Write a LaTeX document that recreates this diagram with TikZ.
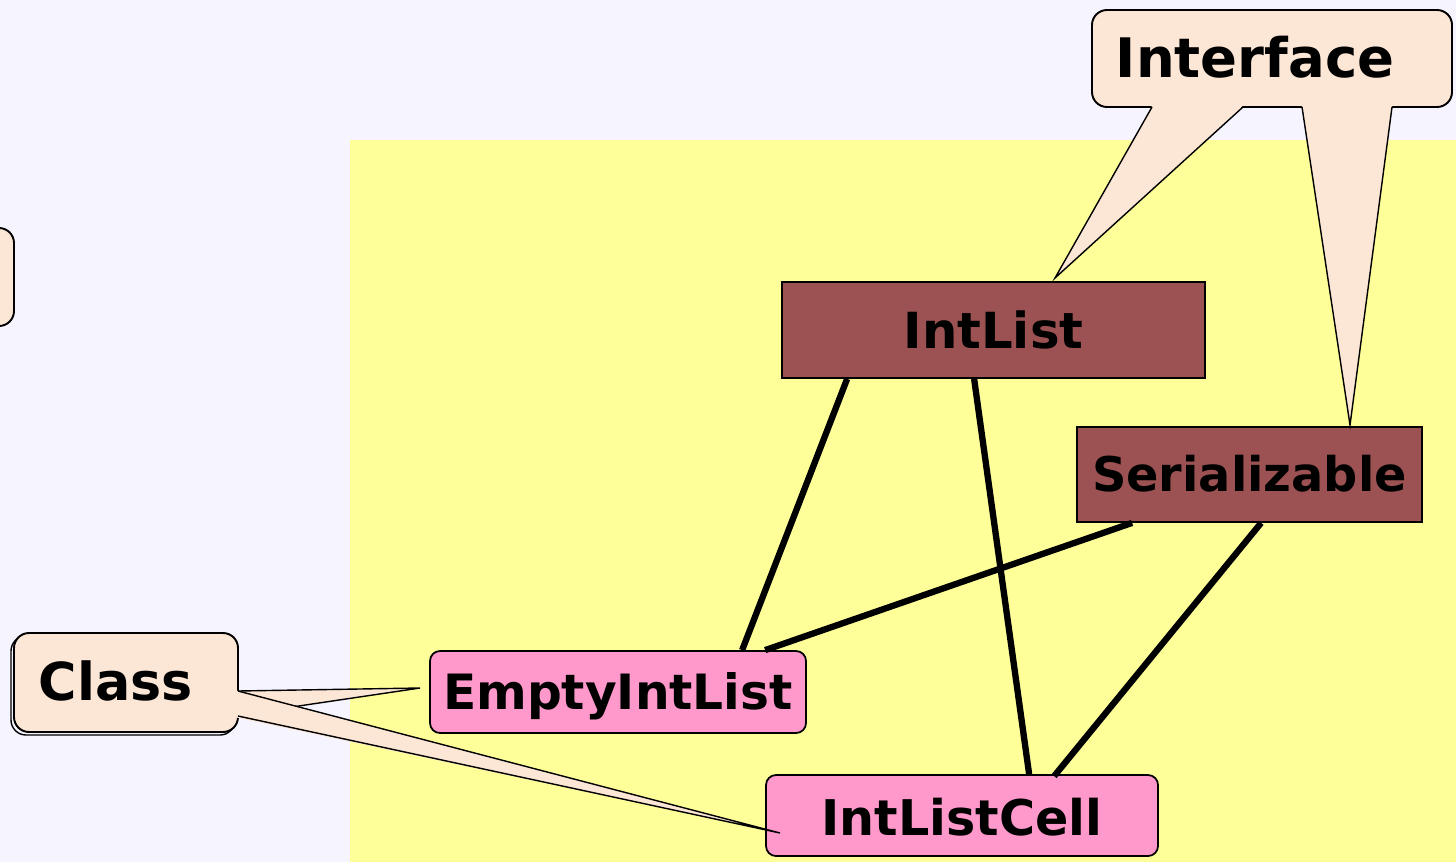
\documentclass[tikz,border=0pt]{standalone}
\usepackage{fontspec}
\setmainfont{DejaVu Sans}
\usetikzlibrary{calc}
\definecolor{pagebg}{HTML}{F6F4FF}
\definecolor{panel}{HTML}{FFFF99}
\definecolor{notefill}{HTML}{FCE6D6}
\definecolor{ifacefill}{HTML}{9C5252}
\definecolor{classfill}{HTML}{FF99CC}
\tikzset{
  boxtext/.style={font=\fontsize{#1}{#1}\selectfont\bfseries, text height={0.729*#1 pt}, text depth=0pt, inner sep=0pt},
  boxtext/.default=28,
  ifacebox/.style={boxtext=#1, rectangle, draw=black, line width=1pt, fill=ifacefill},
  ifacebox/.default=28,
  classbox/.style={boxtext=#1, rectangle, rounded corners=0.2cm, draw=black, line width=1pt, fill=classfill},
  classbox/.default=28,
  link/.style={line width=3.6pt, black},
  notebox/.style={fill=notefill, draw=black, line width=1.1pt, rounded corners=0.3cm},
  tailedge/.style={draw=black, line width=0.8pt, line join=miter},
}
\begin{document}
\begin{tikzpicture}[x=0.02cm, y=-0.02cm]
  \useasboundingbox (0,0) rectangle (1456,862);
  \clip (0,0) rectangle (1456,862);
  % background and highlighted panel
  \fill[pagebg] (0,0) rectangle (1456,862);
  \fill[panel] (350,140) rectangle (1456,862);
  % partly visible note at the left edge
  \path[notebox] (-80,228) rectangle (14,326);

  % boxes
  \node[ifacebox=28.3, minimum width={423*0.02cm}, minimum height={96*0.02cm}] (intlist) at (993.5,330) {IntList};
  \node[ifacebox=27.2, minimum width={345*0.02cm}, minimum height={95*0.02cm}] (serial) at (1249.5,474.5) {Serializable};
  \node[classbox=27.7, minimum width={376*0.02cm}, minimum height={82*0.02cm}] (empty) at (618,692) {EmptyIntList};
  \node[classbox=28, minimum width={392*0.02cm}, minimum height={81*0.02cm}] (cell) at (962,815.5) {};
  \node[boxtext=28] (celltext) at (962,818) {IntListCell};

  % connectors
  \draw[link] ($(intlist.south west)+(66,0)$) -- ($(empty.north west)+(313,0)$);
  \draw[link] ($(intlist.south west)+(193,0)$) -- ($(cell.north west)+(264,0)$);
  \draw[link] ($(serial.south west)+(56,0)$) -- ($(empty.north west)+(336,0)$);
  \draw[link] ($(serial.south west)+(185,0)$) -- ($(cell.north west)+(289,2)$);

  % "Interface" note with two pointers
  \path[notebox] (1092,10) rectangle (1452,107);
  \fill[notefill] (1153.7,103) -- (1055,278) -- (1246,103) -- cycle;
  \draw[tailedge] (1152,107) -- (1055,278) -- (1243,107);
  \fill[notefill] (1301.4,103) -- (1350,425) -- (1392.5,103) -- cycle;
  \draw[tailedge] (1302,107) -- (1350,425) -- (1392,107);
  \node[boxtext=31] (ifacenote) at (1255,58) {Interface};

  % "Class" note with two pointers
  \draw[black, line width=0.8pt, rounded corners=0.3cm] (11,636) rectangle (235,735);
  \path[notebox] (14,633) rectangle (238,732);
  \fill[notefill] (234,691) -- (420,688) -- (234,716) -- cycle;
  \draw[tailedge] (238,691) -- (420,688) -- (238,715);
  \fill[notefill] (234,690) -- (780,833) -- (234,717) -- cycle;
  \draw[tailedge] (238,691) -- (780,833) -- (238,716);
  \node[boxtext=29.8] (classnote) at (116,681) {Class};
\end{tikzpicture}
\end{document}
